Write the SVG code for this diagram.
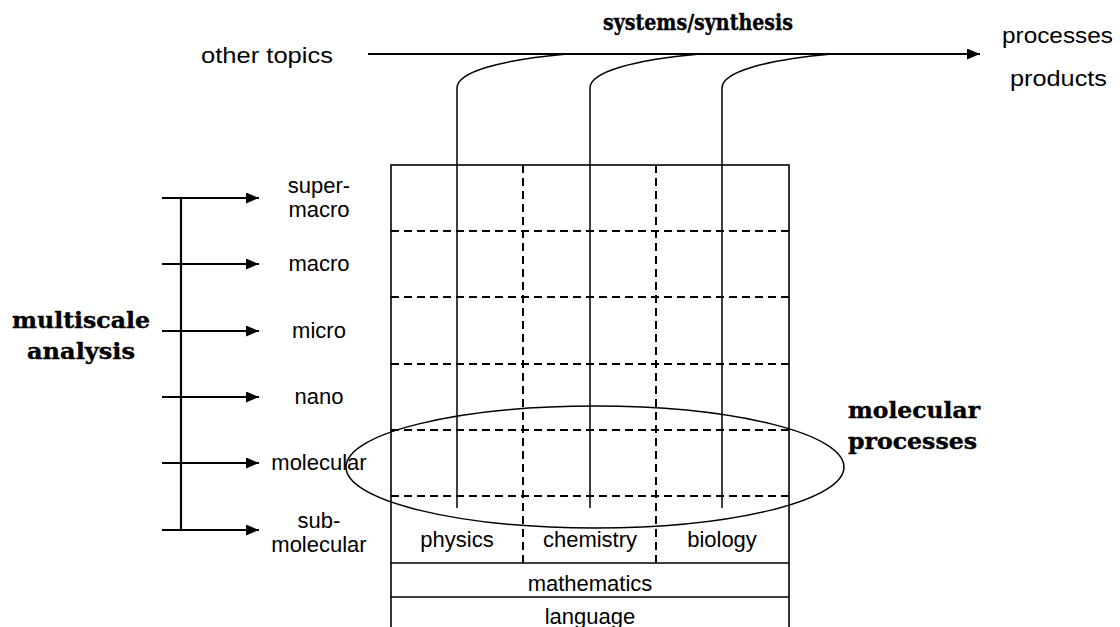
<svg xmlns="http://www.w3.org/2000/svg" width="1120" height="627" viewBox="0 0 1120 627">
<defs>
<marker id="ah" viewBox="0 0 13 11" refX="13" refY="5.5" markerWidth="13" markerHeight="11" markerUnits="userSpaceOnUse" orient="auto">
<path d="M0,0 L13,5.5 L0,11 Z" fill="#000"/>
</marker>
</defs>
<style>
.t{font-family:"Liberation Sans",Arial,sans-serif;font-size:22px;fill:#000}
.b{font-family:"DejaVu Serif","Liberation Serif",serif;font-weight:900;font-size:23px;fill:#000;stroke:#000;stroke-width:0.4}
.m{text-anchor:middle}
.solid{stroke:#000;stroke-width:1.6;fill:none}
.dash{stroke:#000;stroke-width:2;fill:none;stroke-dasharray:8 5}
.arr{stroke:#000;stroke-width:2.2;fill:none}
.thin{stroke:#000;stroke-width:1.5;fill:none}
</style>
<rect width="1120" height="627" fill="#fff"/>

<g id="grid">
<rect x="391" y="165" width="398" height="480" class="solid"/>
<line x1="391" y1="563" x2="789" y2="563" class="solid"/>
<line x1="391" y1="597" x2="789" y2="597" class="solid"/>
<line x1="391" y1="231" x2="789" y2="231" class="dash"/>
<line x1="391" y1="297" x2="789" y2="297" class="dash"/>
<line x1="391" y1="364" x2="789" y2="364" class="dash"/>
<line x1="391" y1="430" x2="789" y2="430" class="dash"/>
<line x1="391" y1="496" x2="789" y2="496" class="dash"/>
<line x1="523" y1="165" x2="523" y2="563" class="dash"/>
<line x1="656" y1="165" x2="656" y2="563" class="dash"/>
</g>

<g id="connectors">
<line x1="368" y1="54" x2="980" y2="54" class="arr" marker-end="url(#ah)"/>
<path d="M457,508 V88 C457,72 500,60 567,54" class="thin"/>
<path d="M590,508 V88 C590,72 633,60 700,54" class="thin"/>
<path d="M722,508 V88 C722,72 765,60 832,54" class="thin"/>
<line x1="181" y1="198" x2="181" y2="530" class="arr"/>
<line x1="162" y1="198" x2="259" y2="198" class="arr" marker-end="url(#ah)"/>
<line x1="162" y1="264" x2="259" y2="264" class="arr" marker-end="url(#ah)"/>
<line x1="162" y1="331" x2="259" y2="331" class="arr" marker-end="url(#ah)"/>
<line x1="162" y1="397" x2="259" y2="397" class="arr" marker-end="url(#ah)"/>
<line x1="162" y1="463" x2="259" y2="463" class="arr" marker-end="url(#ah)"/>
<line x1="162" y1="530" x2="259" y2="530" class="arr" marker-end="url(#ah)"/>
</g>

<g id="molecular-processes-ellipse">
<ellipse cx="595" cy="467" rx="249" ry="61" class="thin"/>
</g>

<g id="other-topics"><text x="201" y="63" class="t" textLength="132" lengthAdjust="spacingAndGlyphs">other topics</text></g>
<g id="systems-synthesis"><text x="603" y="30" class="b" textLength="190" lengthAdjust="spacingAndGlyphs">systems/synthesis</text></g>
<g id="processes-products">
<text x="1002" y="43" class="t" textLength="111" lengthAdjust="spacingAndGlyphs">processes</text>
<text x="1010" y="86" class="t" textLength="97" lengthAdjust="spacingAndGlyphs">products</text>
</g>

<g id="multiscale-analysis">
<text x="12" y="328" class="b" textLength="138" lengthAdjust="spacingAndGlyphs">multiscale</text>
<text x="27" y="359" class="b" textLength="108" lengthAdjust="spacingAndGlyphs">analysis</text>
</g>

<g id="scale-labels">
<text x="319" y="193" class="t m">super-</text>
<text x="319" y="217" class="t m">macro</text>
<text x="319" y="271" class="t m">macro</text>
<text x="319" y="338" class="t m">micro</text>
<text x="319" y="404" class="t m">nano</text>
<text x="319" y="470" class="t m">molecular</text>
<text x="319" y="528" class="t m">sub-</text>
<text x="319" y="552" class="t m">molecular</text>
</g>

<g id="disciplines">
<text x="457" y="547" class="t m">physics</text>
<text x="590" y="547" class="t m">chemistry</text>
<text x="722" y="547" class="t m">biology</text>
<text x="590" y="591" class="t m">mathematics</text>
<text x="590" y="624" class="t m">language</text>
</g>

<g id="molecular-processes">
<text x="848" y="418" class="b" textLength="132" lengthAdjust="spacingAndGlyphs">molecular</text>
<text x="848" y="449" class="b" textLength="129" lengthAdjust="spacingAndGlyphs">processes</text>
</g>
</svg>
